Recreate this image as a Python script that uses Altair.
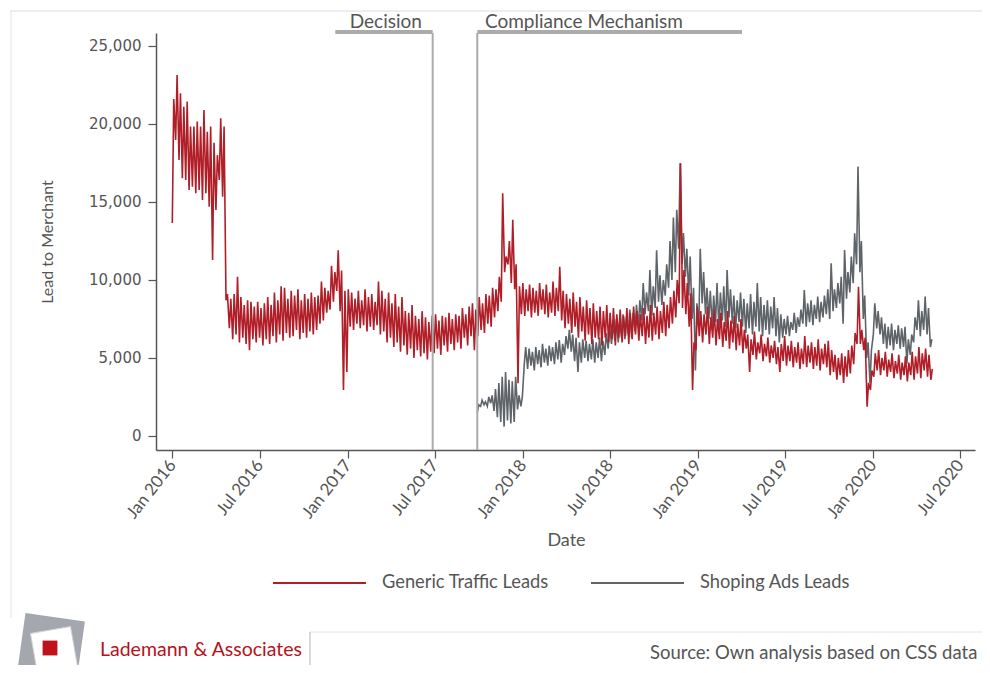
import altair as alt
import pandas as pd

# ---------------- data ----------------
series_names = ["Generic Traffic Leads", "Shoping Ads Leads"]
series_colors = ["#b01e28", "#5f6469"]

# weekly trough / peak pairs (trough at week start, peak mid-week)
generic_start = "2016-01-01"
generic_week_low = [
    13650, 18970, 17690, 16520, 16410, 15770, 15980, 15560, 15770, 15130,
    15560, 14700, 11280, 14490, 16410, 15340, 8700, 6900, 6200, 6500,
    6000, 6300, 5900, 5500, 6200, 6000, 6300, 5800, 6200, 5900,
    6400, 6000, 6500, 6100, 6600, 6300, 6400, 6800, 6200, 6600,
    6300, 6700, 6500, 6800, 7200, 7400, 7900, 8100, 8600, 9300,
    8000, 2950, 4100, 7000, 6800, 7200, 6900, 7100, 6700, 7000,
    6800, 7100, 6500, 6700, 6000, 6300, 5700, 6000, 5400, 5800,
    5200, 5600, 5000, 5500, 5100, 5300, 4900, 5400, 5300, 5600,
    5200, 5800, 5400, 5900, 5500, 6000, 5600, 6300, 5800, 6400,
    5500, 6400, 6800, 6600, 7200, 7000, 7600, 8000, 8600, 10500,
    11000, 9800, 9400, 3380, 7800, 7700, 8000, 7600, 7900, 7700,
    8100, 7800, 7600, 7900, 7700, 8000, 7400, 6900, 7200, 6600,
    7000, 6300, 6700, 6100, 6500, 5900, 6300, 6200, 5800, 6300,
    6000, 6200, 5800, 6300, 6000, 6400, 5900, 6200, 6500, 6100,
    6400, 5900, 6300, 6100, 6500, 6200, 6600, 6400, 6900, 7200,
    7600, 8500, 8200, 7800, 7000, 2950, 5500, 6400, 6000, 6500,
    5900, 6300, 5800, 6200, 5700, 6100, 5600, 6000, 5500, 5800,
    5300, 5600, 4100, 5200, 4900, 5300, 4800, 5100, 4700, 5000,
    4600, 4100, 4800, 4500, 4800, 4400, 4700, 4300, 4600, 4400,
    4700, 4300, 4500, 4200, 4600, 4400, 3900, 4100, 3600, 3900,
    3400, 3800, 4000, 4600, 5900, 5900, 5500, 1880, 2950, 3800,
    4200, 3900, 4200, 3800, 4100, 3700, 4000, 3600, 3900, 3500,
    3900, 3600, 4000, 3700, 4200, 3800, 3600,
]
generic_week_high = [
    21600, 23140, 21970, 21100, 21430, 19830, 19830, 20150, 19830, 20900,
    19500, 19830, 18800, 18000, 20360, 19830, 9100, 8800, 9100, 10200,
    8900, 8400, 8700, 8600, 8300, 8600, 8200, 8500, 8900, 8400,
    9200, 8700, 9600, 9500, 8800, 9300, 9000, 9400, 8700, 9100,
    8800, 9200, 8900, 9000, 9900, 9500, 9300, 10900, 10500, 11900,
    10600, 9300, 9400, 9200, 8800, 9300, 8700, 9400, 8900, 9100,
    8600, 9900, 9300, 8800, 9200, 8500, 9100, 8300, 8900, 8000,
    7900, 8400, 7700, 7500, 8000, 7600, 7300, 7700, 7800, 7400,
    7700, 7600, 7900, 7500, 7800, 7700, 8200, 7800, 8300, 8500,
    8100, 8900, 8500, 9100, 9000, 9500, 9400, 10200, 15550, 11500,
    12500, 13850, 11000, 9600, 9800, 9400, 9700, 9500, 9300, 9800,
    9400, 9700, 9200, 9900, 9500, 10850, 9300, 9100, 8800, 9200,
    8600, 8900, 8300, 8700, 8200, 8500, 8000, 8300, 8000, 8400,
    7900, 8200, 7800, 8100, 7700, 8200, 7900, 8300, 8000, 7800,
    8200, 7700, 8400, 7900, 8300, 8000, 8600, 8400, 8900, 9300,
    10000, 17480, 10640, 9800, 9150, 6000, 8300, 8000, 7800, 8300,
    7600, 8100, 7500, 7900, 7300, 8000, 7400, 7700, 7200, 7500,
    6800, 6500, 6200, 6700, 6000, 6500, 5900, 6300, 5800, 6100,
    5700, 5900, 6400, 5800, 6100, 5700, 6000, 5600, 6400, 5800,
    6000, 5700, 6200, 5600, 5900, 6100, 5500, 5200, 5000, 5300,
    5100, 5500, 5800, 6600, 9570, 6800, 6300, 3400, 4200, 5300,
    5500, 5000, 5400, 4900, 5300, 4800, 5200, 4700, 5100, 4700,
    5400, 5100, 5700, 5300, 5600, 5200, 4300,
]

shopping_start = "2017-09-28"
shopping_week_low = [
    1500, 1900, 2000, 1900, 2100, 1600, 1200, 900, 600, 1000,
    800, 900, 1700, 1900, 4600, 4300, 4500, 4200, 4600, 4400,
    4700, 4500, 4800, 4600, 4900, 4700, 5200, 5600, 5400, 4800,
    4100, 4700, 5000, 4800, 4900, 4700, 5000, 4800, 5200, 5600,
    5900, 6100, 6000, 6300, 6200, 6500, 6300, 6700, 7000, 7400,
    7800, 8000, 7700, 8200, 8600, 8400, 9000, 9500, 10000, 10500,
    12000, 11000, 10200, 9000, 7500, 4200, 7000, 8500, 7800, 7500,
    7000, 7300, 6900, 7400, 7000, 7600, 7200, 6900, 7300, 7000,
    6600, 6900, 6500, 7000, 6700, 6400, 6800, 6500, 6900, 6400,
    6000, 6300, 6500, 6400, 6800, 6600, 7000, 7200, 7000, 7300,
    7100, 7500, 7300, 7600, 7800, 7500, 8000, 8200, 8500, 7200,
    8800, 9200, 9800, 11000, 10500, 7500, 5000, 3380, 6500, 6900,
    6500, 5900, 5600, 5800, 5500, 5900, 5600, 5700, 4650, 5200,
    6000, 6800, 6400, 6800, 6500, 5700,
]
shopping_week_high = [
    2000, 2300, 2200, 2500, 2600, 3000, 3400, 3800, 4100, 3600,
    3500, 3800, 2600, 2500, 5700, 5600, 5400, 5700, 5500, 5900,
    5600, 5800, 5700, 6000, 6150, 5900, 6400, 6800, 6500, 6300,
    6000, 6200, 6100, 5900, 6200, 6000, 6300, 6100, 6600, 7000,
    7200, 7500, 7300, 7800, 7600, 8100, 7900, 8400, 8700, 9800,
    9200, 10640, 9600, 11900, 10300, 10000, 11000, 12500, 14000, 14500,
    17480, 13000, 12000, 11500, 9500, 8500, 12000, 10500, 9500, 9300,
    9000, 9800, 9200, 9600, 10640, 9400, 9000, 8700, 9200, 8800,
    8500, 9100, 8600, 9800, 8900, 8400, 8700, 8300, 8900, 8200,
    7800, 7500, 7700, 7300, 7900, 7600, 8100, 9360, 8500, 8700,
    8400, 8930, 8600, 9000, 9400, 11070, 9400, 9800, 10200, 11920,
    10500, 11500, 12990, 17265, 12500, 9000, 6000, 5500, 8500, 8000,
    7600, 7200, 7000, 7200, 6800, 7100, 6900, 7000, 6200, 6500,
    7600, 8700, 8000, 8930, 8200, 6200,
]

tick_dates = ["2016-01-01", "2016-07-01", "2017-01-01", "2017-07-01", "2018-01-01",
              "2018-07-01", "2019-01-01", "2019-07-01", "2020-01-01", "2020-07-01"]
y_ticks = [0, 5000, 10000, 15000, 20000, 25000]
x_domain = ["2015-11-28", "2020-08-01"]
y_domain = [-900, 25830]

event_labels = ["Decision", "Compliance Mechanism"]
event_dates = ["2017-06-27", "2017-09-28"]
event_bar_start = ["2016-12-06", "2017-09-28"]
event_bar_end = ["2017-06-27", "2019-04-03"]
event_label_dates = ["2017-01-05", "2017-10-14"]

brand_text = "Lademann & Associates"
source_text = "Source: Own analysis based on CSS data"

# ---------------- build tables ----------------
def weekly_table(start, lows, highs, name):
    t0 = pd.Timestamp(start)
    rows = []
    for i, (lo, hi) in enumerate(zip(lows, highs)):
        rows.append({"date": (t0 + pd.Timedelta(days=7 * i)).strftime("%Y-%m-%dT00:00:00"),
                     "value": lo, "series": name})
        rows.append({"date": (t0 + pd.Timedelta(days=7 * i + 3)).strftime("%Y-%m-%dT00:00:00"),
                     "value": hi, "series": name})
    return pd.DataFrame(rows)

generic_df = weekly_table(generic_start, generic_week_low, generic_week_high, series_names[0])
shopping_df = weekly_table(shopping_start, shopping_week_low, shopping_week_high, series_names[1])

def dt(s):
    t = pd.Timestamp(s)
    return alt.DateTime(year=t.year, month=t.month, date=t.day)

def iso(s):
    return pd.Timestamp(s).strftime("%Y-%m-%dT00:00:00")

events_df = pd.DataFrame({
    "label": event_labels,
    "date": [iso(d) for d in event_dates],
    "bar_start": [iso(d) for d in event_bar_start],
    "bar_end": [iso(d) for d in event_bar_end],
    "label_date": [iso(d) for d in event_label_dates],
})

W, H = 819, 417
TEXT = "#555555"
FONT = "Lato"

x_axis = alt.Axis(
    values=[dt(d) for d in tick_dates], format="%b %Y", labelAngle=308,
    labelAlign="right", labelBaseline="middle", labelFont=FONT, labelFontSize=17,
    labelColor=TEXT, labelPadding=4, tickSize=8, tickColor=TEXT, tickWidth=1.2,
    domainColor=TEXT, domainWidth=1.5, grid=False,
    title="Date", titleFont=FONT, titleFontSize=18, titleFontWeight="normal",
    titleColor=TEXT, titleX=410, titleY=90, titleAlign="center", titleBaseline="middle",
)
y_axis = alt.Axis(
    values=y_ticks, format=",.0f", labelFont="DejaVu Sans", labelFontSize=15,
    labelColor=TEXT, labelPadding=7, tickSize=8, tickColor=TEXT, tickWidth=1.2,
    domainColor=TEXT, domainWidth=1.5, grid=False,
    title="Lead to Merchant", titleFont=FONT, titleFontSize=16, titleFontWeight="normal",
    titleColor=TEXT, titleX=-109, titleY=208.5, titleAngle=270,
    titleAlign="center", titleBaseline="middle",
)
x_enc = alt.X("date:T", scale=alt.Scale(domain=[dt(d) for d in x_domain]), axis=x_axis, title="Date")
y_enc = alt.Y("value:Q", scale=alt.Scale(domain=y_domain, nice=False, zero=False), axis=y_axis,
              title="Lead to Merchant")
color_enc = alt.Color(
    "series:N", scale=alt.Scale(domain=series_names, range=series_colors),
    legend=alt.Legend(
        orient="none", legendX=116, legendY=502.5, direction="horizontal", title=None,
        symbolType="stroke", symbolSize=8649, symbolStrokeWidth=2,
        labelFont=FONT, labelFontSize=18.3, labelColor=TEXT, labelOffset=15,
        labelLimit=400, columnPadding=38, padding=0,
    ),
)

shop_line = alt.Chart(shopping_df).mark_line(strokeWidth=1.6).encode(x=x_enc, y=y_enc, color=color_enc)
gen_line = alt.Chart(generic_df).mark_line(strokeWidth=1.6).encode(x=x_enc, y=y_enc, color=color_enc)

ann_x = lambda f: alt.X(f, type="temporal", title="Date")
vrules = alt.Chart(events_df).mark_rule(color="#ababab", strokeWidth=2).encode(
    x=ann_x("date"), y=alt.value(0), y2=alt.value(H))
bars = alt.Chart(events_df).mark_rule(color="#ababab", strokeWidth=4).encode(
    x=ann_x("bar_start"), x2="bar_end:T", y=alt.value(-1))
ev_text = alt.Chart(events_df).mark_text(
    align="left", baseline="alphabetic", font=FONT, fontSize=19, color=TEXT
).encode(x=ann_x("label_date"), y=alt.value(-5.5), text="label:N")

one = pd.DataFrame({"k": [0]})
def deco_rule(x1, y1, x2, y2, color, width=1):
    return alt.Chart(one).mark_rule(color=color, strokeWidth=width).encode(
        x=alt.value(x1), y=alt.value(y1), x2=alt.value(x2), y2=alt.value(y2))

frame_top = deco_rule(-146, -22, 840, -22, "#dcdcdc")
frame_left = deco_rule(-145, -22, -145, 585, "#e2e2e2")
foot_h = deco_rule(154, 599, 840, 599, "#e6e6e6")
foot_v = deco_rule(154, 599, 154, 640, "#b5b5b5")

logo_back = alt.Chart(one).mark_square(size=3600, angle=8, color="#a4a8ae", opacity=1).encode(
    x=alt.value(51 - 156), y=alt.value(647 - 33))
logo_front = alt.Chart(one).mark_square(size=1650, angle=350, color="#ffffff", opacity=1,
                                        stroke="#d0d3d6", strokeWidth=1).encode(
    x=alt.value(54 - 156), y=alt.value(650 - 33))
logo_red = alt.Chart(one).mark_square(size=220, angle=0, color="#c0121c", opacity=1).encode(
    x=alt.value(50 - 156), y=alt.value(648 - 33))
brand = alt.Chart(one).mark_text(text=brand_text, align="left", baseline="alphabetic",
                                 font=FONT, fontSize=19.5, color="#b5121b").encode(
    x=alt.value(100 - 156), y=alt.value(656 - 33))
source = alt.Chart(one).mark_text(text=source_text, align="left", baseline="alphabetic",
                                  font=FONT, fontSize=18.5, color=TEXT).encode(
    x=alt.value(650 - 156), y=alt.value(659 - 33))

chart = alt.layer(
    frame_top, frame_left, foot_h, foot_v,
    shop_line, gen_line, vrules, bars, ev_text,
    logo_back, logo_front, logo_red, brand, source,
).properties(
    width=W, height=H,
    padding={"left": 148, "top": 25, "right": 7, "bottom": 215},
    autosize=alt.AutoSizeParams(type="none"),
    background="white",
).configure_view(stroke=None)

chart.save("out.html", embed_options={"renderer": "svg", "actions": False})
